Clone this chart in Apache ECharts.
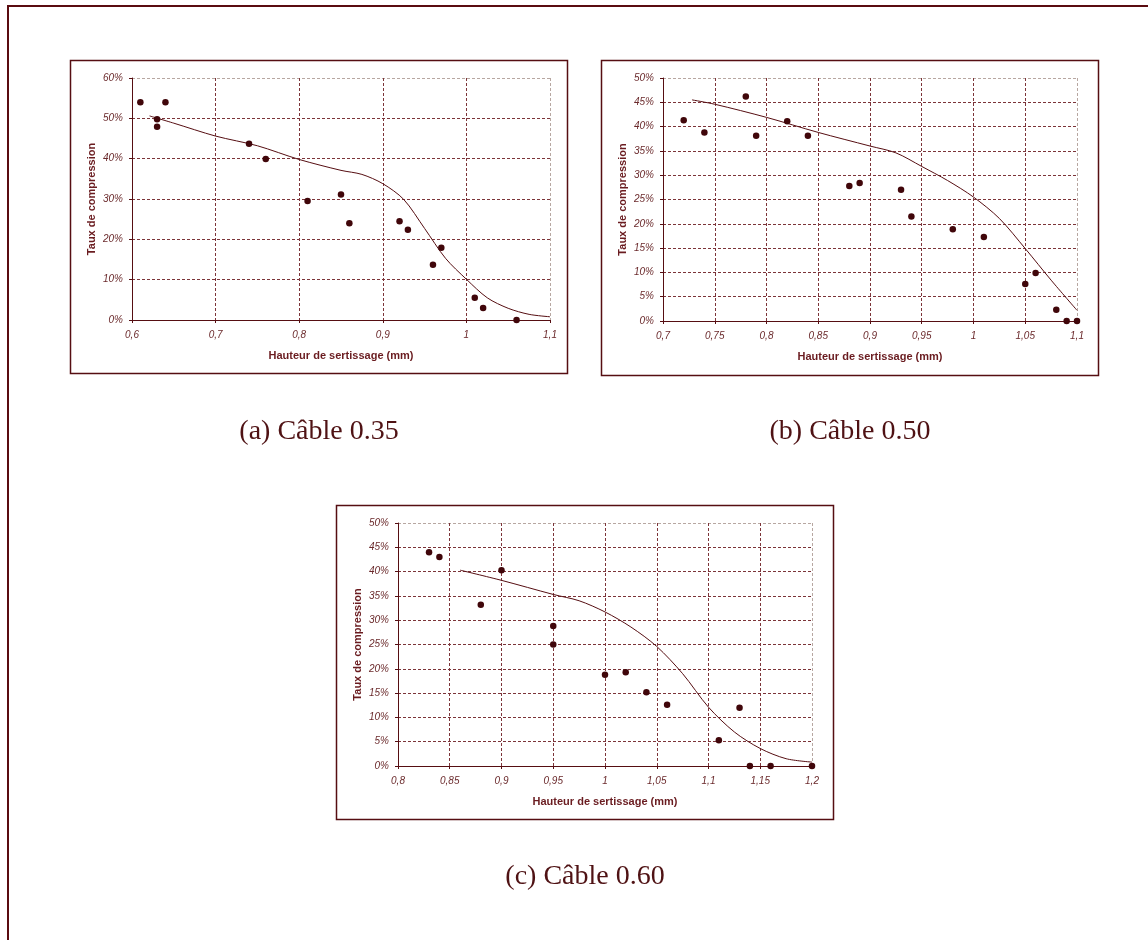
<!DOCTYPE html>
<html>
<head>
<meta charset="utf-8">
<script src="https://cdn.jsdelivr.net/npm/echarts@6/dist/echarts.min.js"></script>
<style>
html,body{margin:0;padding:0;background:#fff;}
#c{width:1148px;height:940px;}
</style>
</head>
<body>
<div id="c"></div>
<script>
// ---- Data (a) Câble 0.35 ----
const ptsAx = [0.61, 0.64, 0.63, 0.63, 0.74, 0.76, 0.81, 0.85, 0.86, 0.92, 0.93, 0.97, 0.96, 1.01, 1.02, 1.06];
const ptsAy = [54.0, 54.0, 49.8, 47.9, 43.7, 39.9, 29.5, 31.1, 24.0, 24.5, 22.4, 17.9, 13.7, 5.5, 3.0, 0.0];
const curAx = [0.621, 0.65, 0.7, 0.75, 0.8, 0.85, 0.875, 0.9, 0.925, 0.95, 0.975, 1.0, 1.025, 1.05, 1.075, 1.1];
const curAy = [50.6, 48.8, 45.6, 43.2, 39.8, 37.1, 36.1, 33.8, 29.9, 22.7, 15.3, 10.1, 5.5, 2.9, 1.4, 0.8];

// ---- Data (b) Câble 0.50 ----
const ptsBx = [0.72, 0.74, 0.78, 0.79, 0.82, 0.84, 0.88, 0.89, 0.93, 0.94, 0.98, 1.01, 1.05, 1.06, 1.08, 1.09, 1.10];
const ptsBy = [41.3, 38.8, 46.2, 38.1, 41.1, 38.1, 27.8, 28.4, 27.0, 21.5, 18.9, 17.3, 7.6, 9.9, 2.3, 0.0, 0.0];
const curBx = [0.728, 0.75, 0.8, 0.85, 0.9, 0.925, 0.95, 0.975, 1.0, 1.025, 1.05, 1.075, 1.1];
const curBy = [45.5, 44.6, 41.9, 38.8, 36.0, 34.6, 31.8, 28.9, 25.5, 21.1, 14.9, 8.4, 2.2];

// ---- Data (c) Câble 0.60 ----
const ptsCx = [0.83, 0.84, 0.88, 0.90, 0.95, 0.95, 1.00, 1.02, 1.04, 1.06, 1.13, 1.11, 1.14, 1.16, 1.20];
const ptsCy = [44.0, 43.0, 33.2, 40.3, 28.8, 25.0, 18.8, 19.3, 15.2, 12.6, 12.0, 5.3, 0.0, 0.0, 0.0];
const curCx = [0.86, 0.9, 0.95, 0.975, 1.0, 1.025, 1.05, 1.075, 1.1, 1.125, 1.15, 1.175, 1.2];
const curCy = [40.3, 38.2, 35.3, 34.0, 31.7, 28.6, 24.6, 19.0, 12.1, 7.0, 3.6, 1.5, 0.8];

// ---- Texts ----
const captions = ['(a) Câble 0.35', '(b) Câble 0.50', '(c) Câble 0.60'];
const xTitle = 'Hauteur de sertissage (mm)';
const yTitle = 'Taux de compression';

// ---- Axis ranges ----
const xRanges = [[0.6, 1.1, 0.1], [0.7, 1.1, 0.05], [0.8, 1.2, 0.05]];
const yRanges = [[0, 60, 10], [0, 50, 5], [0, 50, 5]];

const DARK = '#560e12';
const GRIDC = '#7c3439';
const BORDERC = '#b7a7a1';
const LABELC = '#6b2a2c';

const zip = (a, b) => a.map((v, i) => [v, b[i]]);

const grids = [
  {left: 132, top: 78, width: 418, height: 242},
  {left: 663, top: 78, width: 414, height: 243},
  {left: 398, top: 523, width: 414, height: 243}
];

function splitColors(n) {
  const arr = [];
  for (let i = 0; i < n; i++) arr.push(i === n - 1 ? BORDERC : GRIDC);
  return arr;
}

const xAxes = xRanges.map((r, i) => {
  const n = Math.round((r[1] - r[0]) / r[2]) + 1;
  return {
    type: 'value', gridIndex: i, min: r[0], max: r[1], interval: r[2],
    name: xTitle, nameLocation: 'middle', nameGap: 30,
    nameTextStyle: {fontFamily: 'Liberation Sans', fontWeight: 'bold', fontSize: 11, color: '#6a1c20'},
    axisLine: {onZero: false, lineStyle: {color: DARK, width: 1}},
    axisTick: {show: true, length: 3, lineStyle: {color: DARK}},
    axisLabel: {
      fontFamily: 'Liberation Sans', fontStyle: 'italic', fontSize: 10, color: LABELC, margin: 10,
      showMinLabel: true, showMaxLabel: true,
      formatter: v => String(Math.round(v * 100) / 100).replace('.', ',')
    },
    splitLine: {show: true, lineStyle: {color: splitColors(n), type: [3, 2], width: 1}}
  };
});

const yAxes = yRanges.map((r, i) => {
  const n = Math.round((r[1] - r[0]) / r[2]) + 1;
  return {
    type: 'value', gridIndex: i, min: r[0], max: r[1], interval: r[2],
    name: yTitle, nameLocation: 'middle', nameGap: 35,
    nameTextStyle: {fontFamily: 'Liberation Sans', fontWeight: 'bold', fontSize: 11, color: '#6a1c20'},
    axisLine: {show: true, lineStyle: {color: DARK, width: 1}},
    axisTick: {show: true, length: 3, lineStyle: {color: DARK}},
    axisLabel: {
      fontFamily: 'Liberation Sans', fontStyle: 'italic', fontSize: 10, color: LABELC, margin: 9,
      formatter: v => v + '%'
    },
    splitLine: {show: true, lineStyle: {color: splitColors(n), type: [3, 2], width: 1}}
  };
});

const pts = [zip(ptsAx, ptsAy), zip(ptsBx, ptsBy), zip(ptsCx, ptsCy)];
const curves = [zip(curAx, curAy), zip(curBx, curBy), zip(curCx, curCy)];

const series = [];
for (let i = 0; i < 3; i++) {
  series.push({
    type: 'line', xAxisIndex: i, yAxisIndex: i, data: curves[i],
    smooth: 0.3, showSymbol: false, symbol: 'none',
    lineStyle: {color: DARK, width: 1}, silent: true, z: 3
  });
  series.push({
    type: 'scatter', xAxisIndex: i, yAxisIndex: i, data: pts[i],
    symbol: 'circle', symbolSize: 6.5, itemStyle: {color: '#40060a', opacity: 1}, silent: true, z: 4
  });
}

const boxes = [[70, 60, 497, 313], [601, 60, 497, 315], [336, 505, 497, 314]];
const capPos = [[319, 432], [850, 432], [585, 877]];

const graphic = [];
boxes.forEach(b => graphic.push({
  type: 'rect', shape: {x: b[0] + 0.5, y: b[1] + 0.5, width: b[2], height: b[3]},
  style: {fill: 'none', stroke: DARK, lineWidth: 1.5}, silent: true, z: -1
}));
graphic.push({
  type: 'polyline', shape: {points: [[8, 940], [8, 6], [1148, 6]]},
  style: {fill: 'none', stroke: '#5a0c10', lineWidth: 2}, silent: true
});
captions.forEach((t, i) => graphic.push({
  type: 'text', x: capPos[i][0], y: capPos[i][1],
  style: {text: t, font: '28px "Liberation Serif"', fill: '#4f1214', textAlign: 'center', textVerticalAlign: 'middle'},
  silent: true
}));

const chart = echarts.init(document.getElementById('c'), null, {renderer: 'canvas'});
chart.setOption({
  animation: false,
  backgroundColor: '#ffffff',
  grid: grids,
  xAxis: xAxes,
  yAxis: yAxes,
  series: series,
  graphic: graphic
});
</script>
</body>
</html>
